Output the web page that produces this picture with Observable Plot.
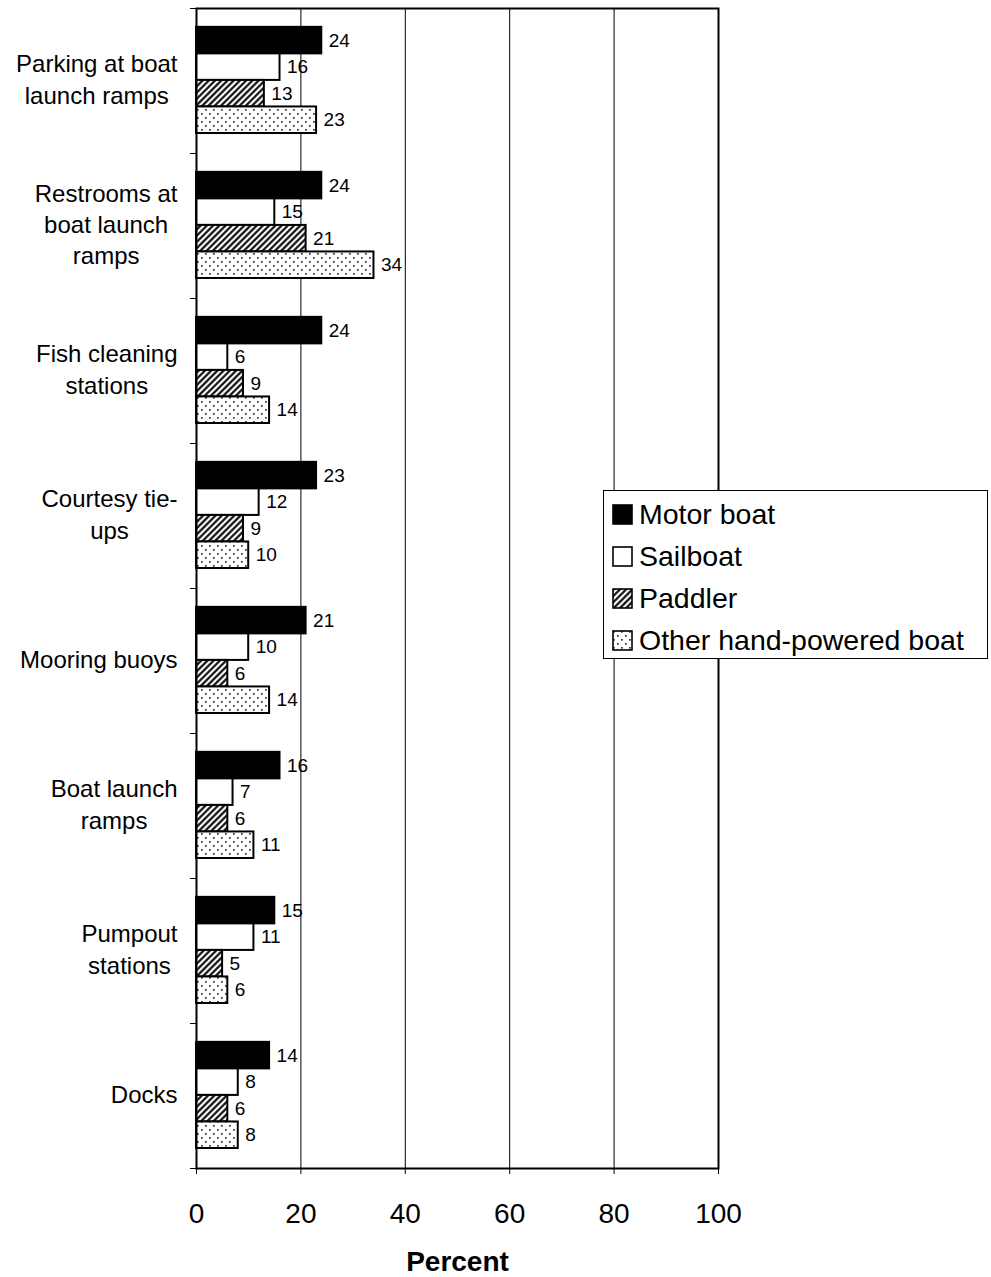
<!DOCTYPE html>
<html>
<head>
<meta charset="utf-8">
<script src="https://cdn.jsdelivr.net/npm/d3@7"></script>
<script src="https://cdn.jsdelivr.net/npm/@observablehq/plot@0.6"></script>
<style>
  html, body { margin: 0; padding: 0; background: #fff; }
  #wrap { position: relative; width: 991px; height: 1277px; font-family: "Liberation Sans", Arial, sans-serif; }
  #legend { position: absolute; left: 603px; top: 490px; width: 385px; height: 169px; border: 1px solid #000; background: #fff; box-sizing: border-box; }
  .item { position: absolute; left: 8px; height: 30px; display: flex; align-items: center; font-size: 28.5px; color: #000; white-space: nowrap; }
  .item svg { margin-right: 6px; }
</style>
</head>
<body>
<svg width="0" height="0" style="position:absolute">
  <defs>
    <pattern id="hatch" width="4.4" height="4.4" patternUnits="userSpaceOnUse" patternTransform="rotate(45)">
      <rect width="4.4" height="4.4" fill="#fff"/>
      <line x1="2.2" y1="0" x2="2.2" y2="4.4" stroke="#000" stroke-width="2.1"/>
    </pattern>
    <pattern id="dots" width="8" height="8" patternUnits="userSpaceOnUse">
      <rect width="8" height="8" fill="#fff"/>
      <rect x="1" y="1" width="1.7" height="1.7" fill="#333"/>
      <rect x="5" y="5" width="1.7" height="1.7" fill="#333"/>
    </pattern>
  </defs>
</svg>
<div id="wrap">
  <div id="chart"></div>
  <div id="legend"></div>
</div>
<script>
// ---- data ----
const categories = [
  "Parking at boat\nlaunch ramps",
  "Restrooms at\nboat launch\nramps",
  "Fish cleaning\nstations",
  "Courtesy tie-\nups",
  "Mooring buoys",
  "Boat launch\nramps",
  "Pumpout\nstations",
  "Docks"
];
const seriesNames = ["Motor boat", "Sailboat", "Paddler", "Other hand-powered boat"];
const motorBoat = [24, 24, 24, 23, 21, 16, 15, 14];
const sailboat  = [16, 15, 6, 12, 10, 7, 11, 8];
const paddler   = [13, 21, 9, 9, 6, 6, 5, 6];
const otherHand = [23, 34, 14, 10, 14, 11, 6, 8];
const xTicks = [0, 20, 40, 60, 80, 100];
const xLabel = "Percent";

// ---- styles ----
const seriesFills = ["#000", "#fff", "url(#hatch)", "url(#dots)"];
const groupPad = 0.13;   // fraction of a category band above first bar
const barH = 0.183;      // fraction of a category band per bar

const seriesValues = [motorBoat, sailboat, paddler, otherHand];
const rows = [];
categories.forEach((c, ci) => {
  seriesNames.forEach((s, si) => {
    rows.push({cat: c, ci, series: s, si, value: seriesValues[si][ci]});
  });
});

// measure label block widths to right-align blocks with centered lines
const ctx = document.createElement("canvas").getContext("2d");
const labelFont = 24;
ctx.font = `${labelFont}px "Liberation Sans", Arial, sans-serif`;
const labelMarks = categories.map((c, ci) => {
  const w = d3.max(c.split("\n"), l => ctx.measureText(l).width);
  return Plot.text([{ci, label: c}], {
    x: () => 0,
    y: d => d.ci + 0.5,
    text: "label",
    textAnchor: "middle",
    lineAnchor: "middle",
    lineHeight: 1.3,
    fontSize: labelFont,
    dx: -(19 + w / 2),
    dy: -3,
    fill: "#000"
  });
});

const chart = Plot.plot({
  width: 991,
  height: 1277,
  marginLeft: 196,
  marginRight: 273,
  marginTop: 8,
  marginBottom: 109,
  style: {fontFamily: '"Liberation Sans", Arial, sans-serif', color: "#000", background: "transparent"},
  x: {domain: [0, 100]},
  y: {domain: [0, categories.length], reverse: true},
  color: {type: "ordinal", domain: seriesNames, range: seriesFills},
  marks: [
    Plot.gridX({ticks: xTicks.slice(1, -1), stroke: "#000", strokeOpacity: 1, strokeWidth: 1}),
    Plot.rect(rows, {
      x1: () => 0,
      x2: "value",
      y1: d => d.ci + groupPad + d.si * barH,
      y2: d => d.ci + groupPad + (d.si + 1) * barH,
      fill: "series",
      stroke: "#000",
      strokeWidth: 2
    }),
    Plot.text(rows, {
      x: "value",
      y: d => d.ci + groupPad + (d.si + 0.5) * barH,
      text: d => String(d.value),
      textAnchor: "start",
      dx: 7,
      fontSize: 19,
      fill: "#000"
    }),
    Plot.frame({stroke: "#000", strokeWidth: 2}),
    Plot.axisY({ticks: d3.range(categories.length + 1), tickFormat: () => "", tickSize: 6, stroke: "#000", label: null}),
    Plot.axisX({ticks: xTicks, tickSize: 6, tickPadding: 29, fontSize: 28, label: null, stroke: "#000"}),
    Plot.text([xLabel], {frameAnchor: "bottom", text: d => d, dy: 94, fontSize: 28, fontWeight: "bold", lineAnchor: "middle", fill: "#000"}),
    ...labelMarks
  ]
});
document.getElementById("chart").appendChild(chart);

// legend
const legend = document.getElementById("legend");
seriesNames.forEach((s, i) => {
  const item = document.createElement("div");
  item.className = "item";
  item.style.top = (8 + i * 42.3) + "px";
  item.innerHTML = `<svg width="21" height="21"><rect x="1" y="1" width="19" height="19" fill="${seriesFills[i]}" stroke="#000" stroke-width="1.6"/></svg><span>${s}</span>`;
  legend.appendChild(item);
});
</script>
</body>
</html>
